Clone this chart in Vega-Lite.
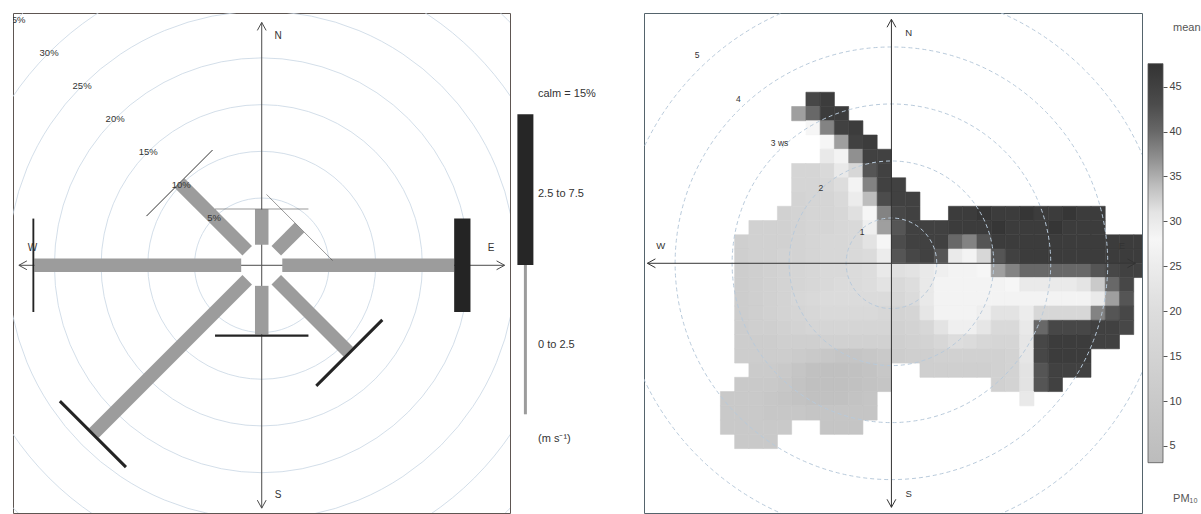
{
"$schema":"https://vega.github.io/schema/vega-lite/v6.json",
"background":"white",
"padding":{"left":12,"top":12,"right":0,"bottom":0},
"spacing":6,
"bounds":"flush",
"resolve":{"scale":{"size":"independent","shape":"independent","strokeWidth":"independent","color":"independent","stroke":"independent"}},
"config":{"view":{"stroke":null},"aria":false,"font":"Liberation Sans","text":{"font":"Liberation Sans"}},
"datasets":{
"rose":[{"dir":0,"ws1":3.8,"ws2":0.05},{"dir":45,"ws1":3.5,"ws2":0.05},{"dir":90,"ws1":18.4,"ws2":1.75},{"dir":135,"ws1":10.9,"ws2":0.32},{"dir":180,"ws1":5.2,"ws2":0.25},{"dir":225,"ws1":23.2,"ws2":0.32},{"dir":270,"ws1":22.15,"ws2":0.2},{"dir":315,"ws1":10.2,"ws2":0.1}],
"compass":[{"p":"N","a":0},{"p":"E","a":90},{"p":"S","a":180},{"p":"W","a":270}],
"pcts":[{"pct":5},{"pct":10},{"pct":15},{"pct":20},{"pct":25},{"pct":30},{"pct":35}],
"wsr":[{"ws":1,"lab":"1"},{"ws":2,"lab":"2"},{"ws":3,"lab":"3 ws"},{"ws":4,"lab":"4"},{"ws":5,"lab":"5"}],
"key":[{"speed":"0 to 2.5","lo":0,"hi":2.5},{"speed":"2.5 to 7.5","lo":2.5,"hi":7.5}],
"heat":[
{"i":-6,"j":11,"m":44},{"i":-5,"j":11,"m":46},
{"i":-7,"j":10,"m":36},{"i":-6,"j":10,"m":40},{"i":-5,"j":10,"m":46},{"i":-4,"j":10,"m":46},
{"i":-6,"j":9,"m":28},{"i":-5,"j":9,"m":38},{"i":-4,"j":9,"m":45},{"i":-3,"j":9,"m":46},
{"i":-5,"j":8,"m":28},{"i":-4,"j":8,"m":36},{"i":-3,"j":8,"m":45},{"i":-2,"j":8,"m":46},
{"i":-5,"j":7,"m":24},{"i":-4,"j":7,"m":27},{"i":-3,"j":7,"m":37},{"i":-2,"j":7,"m":45},{"i":-1,"j":7,"m":45},
{"i":-7,"j":6,"m":16},{"i":-6,"j":6,"m":16},{"i":-5,"j":6,"m":18},{"i":-4,"j":6,"m":24},{"i":-3,"j":6,"m":32},{"i":-2,"j":6,"m":42},{"i":-1,"j":6,"m":45},
{"i":-7,"j":5,"m":16},{"i":-6,"j":5,"m":16},{"i":-5,"j":5,"m":17},{"i":-4,"j":5,"m":20},{"i":-3,"j":5,"m":27},{"i":-2,"j":5,"m":38},{"i":-1,"j":5,"m":45},{"i":0,"j":5,"m":45},
{"i":-7,"j":4,"m":15},{"i":-6,"j":4,"m":16},{"i":-5,"j":4,"m":16},{"i":-4,"j":4,"m":18},{"i":-3,"j":4,"m":25},{"i":-2,"j":4,"m":34},{"i":-1,"j":4,"m":43},{"i":0,"j":4,"m":45},{"i":1,"j":4,"m":45},
{"i":-8,"j":3,"m":14},{"i":-7,"j":3,"m":15},{"i":-6,"j":3,"m":16},{"i":-5,"j":3,"m":16},{"i":-4,"j":3,"m":17},{"i":-3,"j":3,"m":21},{"i":-2,"j":3,"m":28},{"i":-1,"j":3,"m":38},{"i":0,"j":3,"m":44},{"i":1,"j":3,"m":45},{"i":4,"j":3,"m":46},{"i":5,"j":3,"m":46},{"i":6,"j":3,"m":47},{"i":7,"j":3,"m":46},{"i":8,"j":3,"m":46},{"i":9,"j":3,"m":47},{"i":10,"j":3,"m":46},{"i":11,"j":3,"m":46},{"i":12,"j":3,"m":47},{"i":13,"j":3,"m":46},{"i":14,"j":3,"m":46},
{"i":-10,"j":2,"m":14},{"i":-9,"j":2,"m":14},{"i":-8,"j":2,"m":14},{"i":-7,"j":2,"m":15},{"i":-6,"j":2,"m":16},{"i":-5,"j":2,"m":16},{"i":-4,"j":2,"m":17},{"i":-3,"j":2,"m":18},{"i":-2,"j":2,"m":26},{"i":-1,"j":2,"m":36},{"i":0,"j":2,"m":42},{"i":1,"j":2,"m":45},{"i":2,"j":2,"m":45},{"i":3,"j":2,"m":45},{"i":4,"j":2,"m":46},{"i":5,"j":2,"m":46},{"i":6,"j":2,"m":46},{"i":7,"j":2,"m":47},{"i":8,"j":2,"m":46},{"i":9,"j":2,"m":46},{"i":10,"j":2,"m":46},{"i":11,"j":2,"m":47},{"i":12,"j":2,"m":46},{"i":13,"j":2,"m":46},{"i":14,"j":2,"m":46},
{"i":-11,"j":1,"m":13},{"i":-10,"j":1,"m":14},{"i":-9,"j":1,"m":14},{"i":-8,"j":1,"m":14},{"i":-7,"j":1,"m":15},{"i":-6,"j":1,"m":16},{"i":-5,"j":1,"m":17},{"i":-4,"j":1,"m":17},{"i":-3,"j":1,"m":18},{"i":-2,"j":1,"m":22},{"i":-1,"j":1,"m":28},{"i":0,"j":1,"m":43},{"i":1,"j":1,"m":45},{"i":2,"j":1,"m":45},{"i":3,"j":1,"m":45},{"i":4,"j":1,"m":40},{"i":5,"j":1,"m":38},{"i":6,"j":1,"m":42},{"i":7,"j":1,"m":46},{"i":8,"j":1,"m":46},{"i":9,"j":1,"m":46},{"i":10,"j":1,"m":46},{"i":11,"j":1,"m":46},{"i":12,"j":1,"m":46},{"i":13,"j":1,"m":46},{"i":14,"j":1,"m":46},{"i":15,"j":1,"m":46},{"i":16,"j":1,"m":46},{"i":17,"j":1,"m":46},
{"i":-11,"j":0,"m":13},{"i":-10,"j":0,"m":14},{"i":-9,"j":0,"m":14},{"i":-8,"j":0,"m":15},{"i":-7,"j":0,"m":15},{"i":-6,"j":0,"m":16},{"i":-5,"j":0,"m":17},{"i":-4,"j":0,"m":17},{"i":-3,"j":0,"m":18},{"i":-2,"j":0,"m":19},{"i":-1,"j":0,"m":25},{"i":0,"j":0,"m":42},{"i":1,"j":0,"m":44},{"i":2,"j":0,"m":45},{"i":3,"j":0,"m":42},{"i":4,"j":0,"m":30},{"i":5,"j":0,"m":27},{"i":6,"j":0,"m":32},{"i":7,"j":0,"m":42},{"i":8,"j":0,"m":45},{"i":9,"j":0,"m":46},{"i":10,"j":0,"m":46},{"i":11,"j":0,"m":46},{"i":12,"j":0,"m":46},{"i":13,"j":0,"m":46},{"i":14,"j":0,"m":46},{"i":15,"j":0,"m":46},{"i":16,"j":0,"m":46},{"i":17,"j":0,"m":46},
{"i":-11,"j":-1,"m":12},{"i":-10,"j":-1,"m":13},{"i":-9,"j":-1,"m":14},{"i":-8,"j":-1,"m":15},{"i":-7,"j":-1,"m":16},{"i":-6,"j":-1,"m":17},{"i":-5,"j":-1,"m":18},{"i":-4,"j":-1,"m":18},{"i":-3,"j":-1,"m":19},{"i":-2,"j":-1,"m":20},{"i":-1,"j":-1,"m":24},{"i":0,"j":-1,"m":21},{"i":1,"j":-1,"m":22},{"i":2,"j":-1,"m":24},{"i":3,"j":-1,"m":26},{"i":4,"j":-1,"m":27},{"i":5,"j":-1,"m":27},{"i":6,"j":-1,"m":28},{"i":7,"j":-1,"m":36},{"i":8,"j":-1,"m":38},{"i":9,"j":-1,"m":40},{"i":10,"j":-1,"m":40},{"i":11,"j":-1,"m":40},{"i":12,"j":-1,"m":40},{"i":13,"j":-1,"m":40},{"i":14,"j":-1,"m":42},{"i":15,"j":-1,"m":44},{"i":16,"j":-1,"m":45},{"i":17,"j":-1,"m":45},
{"i":-11,"j":-2,"m":12},{"i":-10,"j":-2,"m":13},{"i":-9,"j":-2,"m":14},{"i":-8,"j":-2,"m":15},{"i":-7,"j":-2,"m":16},{"i":-6,"j":-2,"m":17},{"i":-5,"j":-2,"m":18},{"i":-4,"j":-2,"m":19},{"i":-3,"j":-2,"m":19},{"i":-2,"j":-2,"m":20},{"i":-1,"j":-2,"m":22},{"i":0,"j":-2,"m":18},{"i":1,"j":-2,"m":20},{"i":2,"j":-2,"m":24},{"i":3,"j":-2,"m":27},{"i":4,"j":-2,"m":27},{"i":5,"j":-2,"m":27},{"i":6,"j":-2,"m":27},{"i":7,"j":-2,"m":27},{"i":8,"j":-2,"m":28},{"i":9,"j":-2,"m":30},{"i":10,"j":-2,"m":30},{"i":11,"j":-2,"m":30},{"i":12,"j":-2,"m":30},{"i":13,"j":-2,"m":31},{"i":14,"j":-2,"m":33},{"i":15,"j":-2,"m":40},{"i":16,"j":-2,"m":44},
{"i":-11,"j":-3,"m":12},{"i":-10,"j":-3,"m":13},{"i":-9,"j":-3,"m":14},{"i":-8,"j":-3,"m":15},{"i":-7,"j":-3,"m":17},{"i":-6,"j":-3,"m":18},{"i":-5,"j":-3,"m":19},{"i":-4,"j":-3,"m":19},{"i":-3,"j":-3,"m":19},{"i":-2,"j":-3,"m":19},{"i":-1,"j":-3,"m":19},{"i":0,"j":-3,"m":17},{"i":1,"j":-3,"m":19},{"i":2,"j":-3,"m":24},{"i":3,"j":-3,"m":27},{"i":4,"j":-3,"m":27},{"i":5,"j":-3,"m":27},{"i":6,"j":-3,"m":27},{"i":7,"j":-3,"m":27},{"i":8,"j":-3,"m":27},{"i":9,"j":-3,"m":27},{"i":10,"j":-3,"m":27},{"i":11,"j":-3,"m":27},{"i":12,"j":-3,"m":27},{"i":13,"j":-3,"m":27},{"i":14,"j":-3,"m":30},{"i":15,"j":-3,"m":36},{"i":16,"j":-3,"m":42},
{"i":-11,"j":-4,"m":12},{"i":-10,"j":-4,"m":13},{"i":-9,"j":-4,"m":14},{"i":-8,"j":-4,"m":15},{"i":-7,"j":-4,"m":16},{"i":-6,"j":-4,"m":17},{"i":-5,"j":-4,"m":18},{"i":-4,"j":-4,"m":18},{"i":-3,"j":-4,"m":18},{"i":-2,"j":-4,"m":18},{"i":-1,"j":-4,"m":17},{"i":0,"j":-4,"m":15},{"i":1,"j":-4,"m":16},{"i":2,"j":-4,"m":23},{"i":3,"j":-4,"m":27},{"i":4,"j":-4,"m":27},{"i":5,"j":-4,"m":27},{"i":6,"j":-4,"m":26},{"i":7,"j":-4,"m":22},{"i":8,"j":-4,"m":22},{"i":9,"j":-4,"m":25},{"i":10,"j":-4,"m":32},{"i":11,"j":-4,"m":32},{"i":12,"j":-4,"m":32},{"i":13,"j":-4,"m":32},{"i":14,"j":-4,"m":38},{"i":15,"j":-4,"m":42},{"i":16,"j":-4,"m":44},
{"i":-11,"j":-5,"m":12},{"i":-10,"j":-5,"m":13},{"i":-9,"j":-5,"m":13},{"i":-8,"j":-5,"m":14},{"i":-7,"j":-5,"m":15},{"i":-6,"j":-5,"m":16},{"i":-5,"j":-5,"m":16},{"i":-4,"j":-5,"m":16},{"i":-3,"j":-5,"m":16},{"i":-2,"j":-5,"m":16},{"i":-1,"j":-5,"m":16},{"i":0,"j":-5,"m":14},{"i":1,"j":-5,"m":15},{"i":2,"j":-5,"m":17},{"i":3,"j":-5,"m":22},{"i":4,"j":-5,"m":26},{"i":5,"j":-5,"m":26},{"i":6,"j":-5,"m":23},{"i":7,"j":-5,"m":18},{"i":8,"j":-5,"m":18},{"i":9,"j":-5,"m":24},{"i":10,"j":-5,"m":40},{"i":11,"j":-5,"m":44},{"i":12,"j":-5,"m":44},{"i":13,"j":-5,"m":44},{"i":14,"j":-5,"m":45},{"i":15,"j":-5,"m":45},{"i":16,"j":-5,"m":44},
{"i":-11,"j":-6,"m":12},{"i":-10,"j":-6,"m":12},{"i":-9,"j":-6,"m":12},{"i":-8,"j":-6,"m":13},{"i":-7,"j":-6,"m":13},{"i":-6,"j":-6,"m":13},{"i":-5,"j":-6,"m":14},{"i":-4,"j":-6,"m":14},{"i":-3,"j":-6,"m":14},{"i":-2,"j":-6,"m":14},{"i":-1,"j":-6,"m":14},{"i":0,"j":-6,"m":13},{"i":1,"j":-6,"m":14},{"i":2,"j":-6,"m":15},{"i":3,"j":-6,"m":17},{"i":4,"j":-6,"m":20},{"i":5,"j":-6,"m":19},{"i":6,"j":-6,"m":17},{"i":7,"j":-6,"m":16},{"i":8,"j":-6,"m":16},{"i":9,"j":-6,"m":23},{"i":10,"j":-6,"m":44},{"i":11,"j":-6,"m":46},{"i":12,"j":-6,"m":46},{"i":13,"j":-6,"m":46},{"i":14,"j":-6,"m":45},{"i":15,"j":-6,"m":45},
{"i":-11,"j":-7,"m":12},{"i":-10,"j":-7,"m":12},{"i":-9,"j":-7,"m":12},{"i":-8,"j":-7,"m":12},{"i":-7,"j":-7,"m":11},{"i":-6,"j":-7,"m":10},{"i":-5,"j":-7,"m":9},{"i":-4,"j":-7,"m":8},{"i":-3,"j":-7,"m":8},{"i":-2,"j":-7,"m":9},{"i":-1,"j":-7,"m":10},{"i":0,"j":-7,"m":12},{"i":1,"j":-7,"m":13},{"i":2,"j":-7,"m":13},{"i":3,"j":-7,"m":14},{"i":4,"j":-7,"m":14},{"i":5,"j":-7,"m":14},{"i":6,"j":-7,"m":14},{"i":7,"j":-7,"m":14},{"i":8,"j":-7,"m":15},{"i":9,"j":-7,"m":23},{"i":10,"j":-7,"m":44},{"i":11,"j":-7,"m":46},{"i":12,"j":-7,"m":46},{"i":13,"j":-7,"m":46},
{"i":-10,"j":-8,"m":11},{"i":-9,"j":-8,"m":11},{"i":-8,"j":-8,"m":10},{"i":-7,"j":-8,"m":8},{"i":-6,"j":-8,"m":6},{"i":-5,"j":-8,"m":5},{"i":-4,"j":-8,"m":5},{"i":-3,"j":-8,"m":6},{"i":-2,"j":-8,"m":7},{"i":-1,"j":-8,"m":9},{"i":2,"j":-8,"m":13},{"i":3,"j":-8,"m":13},{"i":4,"j":-8,"m":13},{"i":5,"j":-8,"m":13},{"i":6,"j":-8,"m":13},{"i":7,"j":-8,"m":14},{"i":8,"j":-8,"m":15},{"i":9,"j":-8,"m":22},{"i":10,"j":-8,"m":42},{"i":11,"j":-8,"m":45},{"i":12,"j":-8,"m":45},{"i":13,"j":-8,"m":45},
{"i":-11,"j":-9,"m":10},{"i":-10,"j":-9,"m":10},{"i":-9,"j":-9,"m":10},{"i":-8,"j":-9,"m":9},{"i":-7,"j":-9,"m":7},{"i":-6,"j":-9,"m":5},{"i":-5,"j":-9,"m":5},{"i":-4,"j":-9,"m":5},{"i":-3,"j":-9,"m":6},{"i":-2,"j":-9,"m":7},{"i":-1,"j":-9,"m":8},{"i":7,"j":-9,"m":14},{"i":8,"j":-9,"m":15},{"i":9,"j":-9,"m":22},{"i":10,"j":-9,"m":42},{"i":11,"j":-9,"m":45},
{"i":-12,"j":-10,"m":10},{"i":-11,"j":-10,"m":10},{"i":-10,"j":-10,"m":10},{"i":-9,"j":-10,"m":9},{"i":-8,"j":-10,"m":8},{"i":-7,"j":-10,"m":7},{"i":-6,"j":-10,"m":6},{"i":-5,"j":-10,"m":6},{"i":-4,"j":-10,"m":6},{"i":-3,"j":-10,"m":7},{"i":-2,"j":-10,"m":8},{"i":9,"j":-10,"m":24},
{"i":-12,"j":-11,"m":10},{"i":-11,"j":-11,"m":10},{"i":-10,"j":-11,"m":10},{"i":-9,"j":-11,"m":9},{"i":-8,"j":-11,"m":9},{"i":-7,"j":-11,"m":9},{"i":-6,"j":-11,"m":8},{"i":-5,"j":-11,"m":8},{"i":-4,"j":-11,"m":8},{"i":-3,"j":-11,"m":8},{"i":-2,"j":-11,"m":8},
{"i":-12,"j":-12,"m":10},{"i":-11,"j":-12,"m":10},{"i":-10,"j":-12,"m":10},{"i":-9,"j":-12,"m":10},{"i":-8,"j":-12,"m":10},{"i":-5,"j":-12,"m":8},{"i":-4,"j":-12,"m":8},{"i":-3,"j":-12,"m":8},
{"i":-11,"j":-13,"m":10},{"i":-10,"j":-13,"m":10},{"i":-9,"j":-13,"m":10}
]
},
"hconcat":[
{
"width":497,"height":500,
"view":{"stroke":"#5e5652","strokeWidth":1},
"layer":[
{"data":{"name":"pcts"},
 "transform":[{"calculate":"datum.pct+2.2","as":"rr"},{"calculate":"0","as":"o"}],
 "mark":{"type":"point","shape":"circle","filled":false,"stroke":"#c8d6e3","strokeWidth":0.8,"opacity":1,"clip":true},
 "encoding":{
  "x":{"field":"o","type":"quantitative","scale":{"domain":[-26.63,26.58],"nice":false,"zero":false},"axis":null},
  "y":{"field":"o","type":"quantitative","scale":{"domain":[-26.52,27.01],"nice":false,"zero":false},"axis":null},
  "size":{"field":"rr","type":"quantitative","scale":{"type":"pow","exponent":2,"domain":[0,40],"range":[0,558301]},"legend":null}}},
{"data":{"name":"compass"},
 "transform":[{"calculate":"0","as":"o"},{"calculate":"sin(datum.a*PI/180)*26","as":"tx"},{"calculate":"cos(datum.a*PI/180)*26","as":"ty"}],
 "mark":{"type":"rule","color":"#4a4a4a","strokeWidth":1},
 "encoding":{
  "x":{"field":"o","type":"quantitative","scale":{"domain":[-26.63,26.58],"nice":false,"zero":false},"axis":null},
  "y":{"field":"o","type":"quantitative","scale":{"domain":[-26.52,27.01],"nice":false,"zero":false},"axis":null},
  "x2":{"field":"tx"},"y2":{"field":"ty"}}},
{"data":{"name":"compass"},
 "transform":[{"calculate":"sin(datum.a*PI/180)*26","as":"tx"},{"calculate":"cos(datum.a*PI/180)*26","as":"ty"}],
 "mark":{"type":"point","size":256,"filled":false,"stroke":"#4a4a4a","strokeWidth":1,"opacity":1},
 "encoding":{
  "x":{"field":"tx","type":"quantitative","scale":{"domain":[-26.63,26.58],"nice":false,"zero":false},"axis":null},
  "y":{"field":"ty","type":"quantitative","scale":{"domain":[-26.52,27.01],"nice":false,"zero":false},"axis":null},
  "shape":{"field":"p","type":"nominal","scale":{"domain":["N","E","S","W"],"range":["M -0.55 1 L 0 0 L 0.55 1","M -1 -0.55 L 0 0 L -1 0.55","M -0.55 -1 L 0 0 L 0.55 -1","M 1 -0.55 L 0 0 L 1 0.55"]},"legend":null}}},
{"data":{"name":"rose"},
 "transform":[{"calculate":"sin(datum.dir*PI/180)","as":"sx"},{"calculate":"cos(datum.dir*PI/180)","as":"cy"},
  {"calculate":"datum.sx*2.2","as":"x0"},{"calculate":"datum.cy*2.2","as":"y0"},
  {"calculate":"datum.sx*(2.2+datum.ws1)","as":"x1"},{"calculate":"datum.cy*(2.2+datum.ws1)","as":"y1"}],
 "mark":{"type":"rule","strokeWidth":13.5,"color":"#9c9c9c","strokeCap":"butt"},
 "encoding":{
  "x":{"field":"x0","type":"quantitative","scale":{"domain":[-26.63,26.58],"nice":false,"zero":false},"axis":null},
  "y":{"field":"y0","type":"quantitative","scale":{"domain":[-26.52,27.01],"nice":false,"zero":false},"axis":null},
  "x2":{"field":"x1"},"y2":{"field":"y1"}}},
{"data":{"name":"rose"},
 "transform":[{"calculate":"sin(datum.dir*PI/180)","as":"sx"},{"calculate":"cos(datum.dir*PI/180)","as":"cy"},
  {"calculate":"2.2+datum.ws1+datum.ws2/2","as":"rm"},
  {"calculate":"datum.sx*datum.rm-datum.cy*5","as":"px1"},{"calculate":"datum.cy*datum.rm+datum.sx*5","as":"py1"},
  {"calculate":"datum.sx*datum.rm+datum.cy*5","as":"px2"},{"calculate":"datum.cy*datum.rm-datum.sx*5","as":"py2"}],
 "mark":{"type":"rule","color":"#242424","strokeCap":"butt"},
 "encoding":{
  "x":{"field":"px1","type":"quantitative","scale":{"domain":[-26.63,26.58],"nice":false,"zero":false},"axis":null},
  "y":{"field":"py1","type":"quantitative","scale":{"domain":[-26.52,27.01],"nice":false,"zero":false},"axis":null},
  "x2":{"field":"px2"},"y2":{"field":"py2"},
  "strokeWidth":{"field":"ws2","type":"quantitative","scale":{"type":"linear","domain":[0,1.75],"range":[0,16.3],"zero":true},"legend":null}}},
{"data":{"name":"compass"},
 "transform":[{"calculate":"sin(datum.a*PI/180)*24.55+pow(cos(datum.a*PI/180),2)*1.75","as":"lx"},{"calculate":"cos(datum.a*PI/180)*24.55+pow(sin(datum.a*PI/180),2)*1.85","as":"ly"}],
 "mark":{"type":"text","fontSize":10,"color":"#333333","align":"center","baseline":"middle"},
 "encoding":{
  "x":{"field":"lx","type":"quantitative","scale":{"domain":[-26.63,26.58],"nice":false,"zero":false},"axis":null},
  "y":{"field":"ly","type":"quantitative","scale":{"domain":[-26.52,27.01],"nice":false,"zero":false},"axis":null},
  "text":{"field":"p","type":"nominal"}}},
{"data":{"name":"pcts"},
 "transform":[{"calculate":"datum.pct+'%'","as":"lab"},{"calculate":"-(datum.pct+2.2)*0.7071","as":"lx"},{"calculate":"(datum.pct+2.2)*0.7071","as":"ly"}],
 "mark":{"type":"text","fontSize":9.5,"color":"#333333","align":"center","baseline":"middle","clip":true},
 "encoding":{
  "x":{"field":"lx","type":"quantitative","scale":{"domain":[-26.63,26.58],"nice":false,"zero":false},"axis":null},
  "y":{"field":"ly","type":"quantitative","scale":{"domain":[-26.52,27.01],"nice":false,"zero":false},"axis":null},
  "text":{"field":"lab","type":"nominal"}}}
]
},
{
"width":122,"height":500,
"layer":[
{"data":{"name":"key"},
 "transform":[{"filter":"datum.hi>3"},{"calculate":"0.94","as":"kx"}],
 "mark":{"type":"rule","strokeCap":"butt","strokeWidth":16,"color":"#262626"},
 "encoding":{
  "x":{"field":"kx","type":"quantitative","scale":{"domain":[0,12.2],"nice":false,"zero":false},"axis":null},
  "y":{"field":"lo","type":"quantitative","scale":{"domain":[-1,0,2.5,7.5,10],"range":[461,401.3,252,101.3,25.9],"nice":false,"zero":false},"axis":null},
  "y2":{"field":"hi"}}},
{"data":{"name":"key"},
 "transform":[{"filter":"datum.hi<3"},{"calculate":"0.94","as":"kx"}],
 "mark":{"type":"rule","strokeCap":"butt","strokeWidth":3,"color":"#9c9c9c"},
 "encoding":{
  "x":{"field":"kx","type":"quantitative","scale":{"domain":[0,12.2],"nice":false,"zero":false},"axis":null},
  "y":{"field":"lo","type":"quantitative","scale":{"domain":[-1,0,2.5,7.5,10],"range":[461,401.3,252,101.3,25.9],"nice":false,"zero":false},"axis":null},
  "y2":{"field":"hi"}}},
{"data":{"name":"key"},
 "transform":[{"calculate":"2.2","as":"kx"}],
 "mark":{"type":"text","align":"left","baseline":"middle","dy":80,"fontSize":11,"color":"#333333"},
 "encoding":{
  "x":{"field":"kx","type":"quantitative","scale":{"domain":[0,12.2],"nice":false,"zero":false},"axis":null},
  "y":{"field":"hi","type":"quantitative","scale":{"domain":[-1,0,2.5,7.5,10],"range":[461,401.3,252,101.3,25.9],"nice":false,"zero":false},"axis":null},
  "text":{"field":"speed","type":"nominal"}}},
{"data":{"values":[{"t":"calm = 15%","ky":8.18},{"t":"(m s⁻¹)","ky":-0.42}]},
 "transform":[{"calculate":"2.2","as":"kx"}],
 "mark":{"type":"text","align":"left","baseline":"middle","fontSize":11,"color":"#333333"},
 "encoding":{
  "x":{"field":"kx","type":"quantitative","scale":{"domain":[0,12.2],"nice":false,"zero":false},"axis":null},
  "y":{"field":"ky","type":"quantitative","scale":{"domain":[-1,0,2.5,7.5,10],"range":[461,401.3,252,101.3,25.9],"nice":false,"zero":false},"axis":null},
  "text":{"field":"t","type":"nominal"}}}
]
},
{
"width":498,"height":500,
"view":{"stroke":"#55646c","strokeWidth":1},
"layer":[
{"data":{"name":"heat"},
 "transform":[{"calculate":"datum.i+1","as":"i2"},{"calculate":"datum.j+1","as":"j2"}],
 "mark":{"type":"rect","strokeWidth":0.6,"clip":true},
 "encoding":{
  "x":{"field":"i","type":"quantitative","scale":{"domain":[-17.36,17.58],"nice":false,"zero":false},"axis":null},
  "x2":{"field":"i2"},
  "y":{"field":"j","type":"quantitative","scale":{"domain":[-17.52,17.56],"nice":false,"zero":false},"axis":null},
  "y2":{"field":"j2"},
  "color":{"field":"m","type":"quantitative","scale":{"domain":[3.14,10,15,20,25,28,31,34,37,40,43,47.56],"range":["#bcbcbc","#c9c9c9","#d3d3d3","#dddddd","#ececec","#f6f6f6","#e4e4e4","#bdbdbd","#909090","#686868","#4c4c4c","#333333"],"interpolate":"rgb"},"legend":null},
  "stroke":{"field":"m","type":"quantitative","scale":{"domain":[3.14,10,15,20,25,28,31,34,37,40,43,47.56],"range":["#bcbcbc","#c9c9c9","#d3d3d3","#dddddd","#ececec","#f6f6f6","#e4e4e4","#bdbdbd","#909090","#686868","#4c4c4c","#333333"],"interpolate":"rgb"},"legend":null}}},
{"data":{"name":"wsr"},
 "transform":[{"calculate":"datum.ws-0.205","as":"rr"},{"calculate":"0","as":"o"}],
 "mark":{"type":"point","shape":"circle","filled":false,"stroke":"#b8cadb","strokeWidth":1,"strokeDash":[4,3],"opacity":1,"clip":true},
 "encoding":{
  "x":{"field":"o","type":"quantitative","scale":{"domain":[-17.36,17.58],"nice":false,"zero":false},"axis":null},
  "y":{"field":"o","type":"quantitative","scale":{"domain":[-17.52,17.56],"nice":false,"zero":false},"axis":null},
  "size":{"field":"rr","type":"quantitative","scale":{"type":"pow","exponent":2,"domain":[0,5],"range":[0,324900]},"legend":null}}},
{"data":{"name":"compass"},
 "transform":[{"calculate":"0","as":"o"},{"calculate":"sin(datum.a*PI/180)*17.12","as":"tx"},{"calculate":"cos(datum.a*PI/180)*17.12","as":"ty"}],
 "mark":{"type":"rule","color":"#333333","strokeWidth":1},
 "encoding":{
  "x":{"field":"o","type":"quantitative","scale":{"domain":[-17.36,17.58],"nice":false,"zero":false},"axis":null},
  "y":{"field":"o","type":"quantitative","scale":{"domain":[-17.52,17.56],"nice":false,"zero":false},"axis":null},
  "x2":{"field":"tx"},"y2":{"field":"ty"}}},
{"data":{"name":"compass"},
 "transform":[{"calculate":"sin(datum.a*PI/180)*17.12","as":"tx"},{"calculate":"cos(datum.a*PI/180)*17.12","as":"ty"}],
 "mark":{"type":"point","size":256,"filled":false,"stroke":"#333333","strokeWidth":1,"opacity":1},
 "encoding":{
  "x":{"field":"tx","type":"quantitative","scale":{"domain":[-17.36,17.58],"nice":false,"zero":false},"axis":null},
  "y":{"field":"ty","type":"quantitative","scale":{"domain":[-17.52,17.56],"nice":false,"zero":false},"axis":null},
  "shape":{"field":"p","type":"nominal","scale":{"domain":["N","E","S","W"],"range":["M -0.55 1 L 0 0 L 0.55 1","M -1 -0.55 L 0 0 L -1 0.55","M -0.55 -1 L 0 0 L 0.55 -1","M 1 -0.55 L 0 0 L 1 0.55"]},"legend":null}}},
{"data":{"name":"compass"},
 "transform":[{"calculate":"sin(datum.a*PI/180)*16.18+pow(cos(datum.a*PI/180),2)*1.21","as":"lx"},{"calculate":"cos(datum.a*PI/180)*16.18+pow(sin(datum.a*PI/180),2)*1.21","as":"ly"}],
 "mark":{"type":"text","fontSize":9.5,"color":"#333333","align":"center","baseline":"middle"},
 "encoding":{
  "x":{"field":"lx","type":"quantitative","scale":{"domain":[-17.36,17.58],"nice":false,"zero":false},"axis":null},
  "y":{"field":"ly","type":"quantitative","scale":{"domain":[-17.52,17.56],"nice":false,"zero":false},"axis":null},
  "text":{"field":"p","type":"nominal"}}},
{"data":{"name":"wsr"},
 "transform":[{"calculate":"-2.8955*(datum.ws-0.289)","as":"lx"},{"calculate":"3.1052*(datum.ws-0.289)","as":"ly"}],
 "mark":{"type":"text","fontSize":8.5,"color":"#333333","align":"center","baseline":"middle"},
 "encoding":{
  "x":{"field":"lx","type":"quantitative","scale":{"domain":[-17.36,17.58],"nice":false,"zero":false},"axis":null},
  "y":{"field":"ly","type":"quantitative","scale":{"domain":[-17.52,17.56],"nice":false,"zero":false},"axis":null},
  "text":{"field":"lab","type":"nominal"}}}
]
},
{
"width":15,"height":500,
"layer":[
{"data":{"values":[{"v0":3.14,"v1":47.56}]},
 "transform":[{"calculate":"0","as":"x0"},{"calculate":"1","as":"x1"}],
 "mark":{"type":"rect","stroke":"#555555","strokeWidth":0.8,"fill":{"gradient":"linear","x1":0,"y1":1,"x2":0,"y2":0,"stops":[{"offset":0,"color":"#bcbcbc"},{"offset":0.1544,"color":"#c9c9c9"},{"offset":0.267,"color":"#d3d3d3"},{"offset":0.3796,"color":"#dddddd"},{"offset":0.4921,"color":"#ececec"},{"offset":0.5597,"color":"#f6f6f6"},{"offset":0.6272,"color":"#e4e4e4"},{"offset":0.6947,"color":"#bdbdbd"},{"offset":0.7623,"color":"#909090"},{"offset":0.8298,"color":"#686868"},{"offset":0.8973,"color":"#4c4c4c"},{"offset":1,"color":"#333333"}]}},
 "encoding":{
  "x":{"field":"x0","type":"quantitative","scale":{"domain":[0,1],"nice":false,"zero":false},"axis":null},
  "x2":{"field":"x1"},
  "y":{"field":"v0","type":"quantitative","scale":{"domain":[-2.46,53.2],"nice":false,"zero":false},"axis":{"orient":"right","values":[5,10,15,20,25,30,35,40,45],"domain":false,"grid":false,"tickSize":4,"tickColor":"#555555","labelColor":"#444444","labelFontSize":11,"labelFont":"Liberation Sans","labelPadding":2,"title":null}},
  "y2":{"field":"v1"}}},
{"data":{"values":[{"t":"mean","ty":51.5},{"t":"PM₁₀","ty":-0.9}]},
 "transform":[{"calculate":"1.67","as":"tx"}],
 "mark":{"type":"text","align":"left","baseline":"middle","fontSize":11,"color":"#555555"},
 "encoding":{
  "x":{"field":"tx","type":"quantitative","scale":{"domain":[0,1],"nice":false,"zero":false},"axis":null},
  "y":{"field":"ty","type":"quantitative","scale":{"domain":[-2.46,53.2],"nice":false,"zero":false},"axis":{"orient":"right","values":[5,10,15,20,25,30,35,40,45],"domain":false,"grid":false,"tickSize":4,"tickColor":"#555555","labelColor":"#444444","labelFontSize":11,"labelFont":"Liberation Sans","labelPadding":2,"title":null}},
  "text":{"field":"t","type":"nominal"}}}
]
}
]
}
